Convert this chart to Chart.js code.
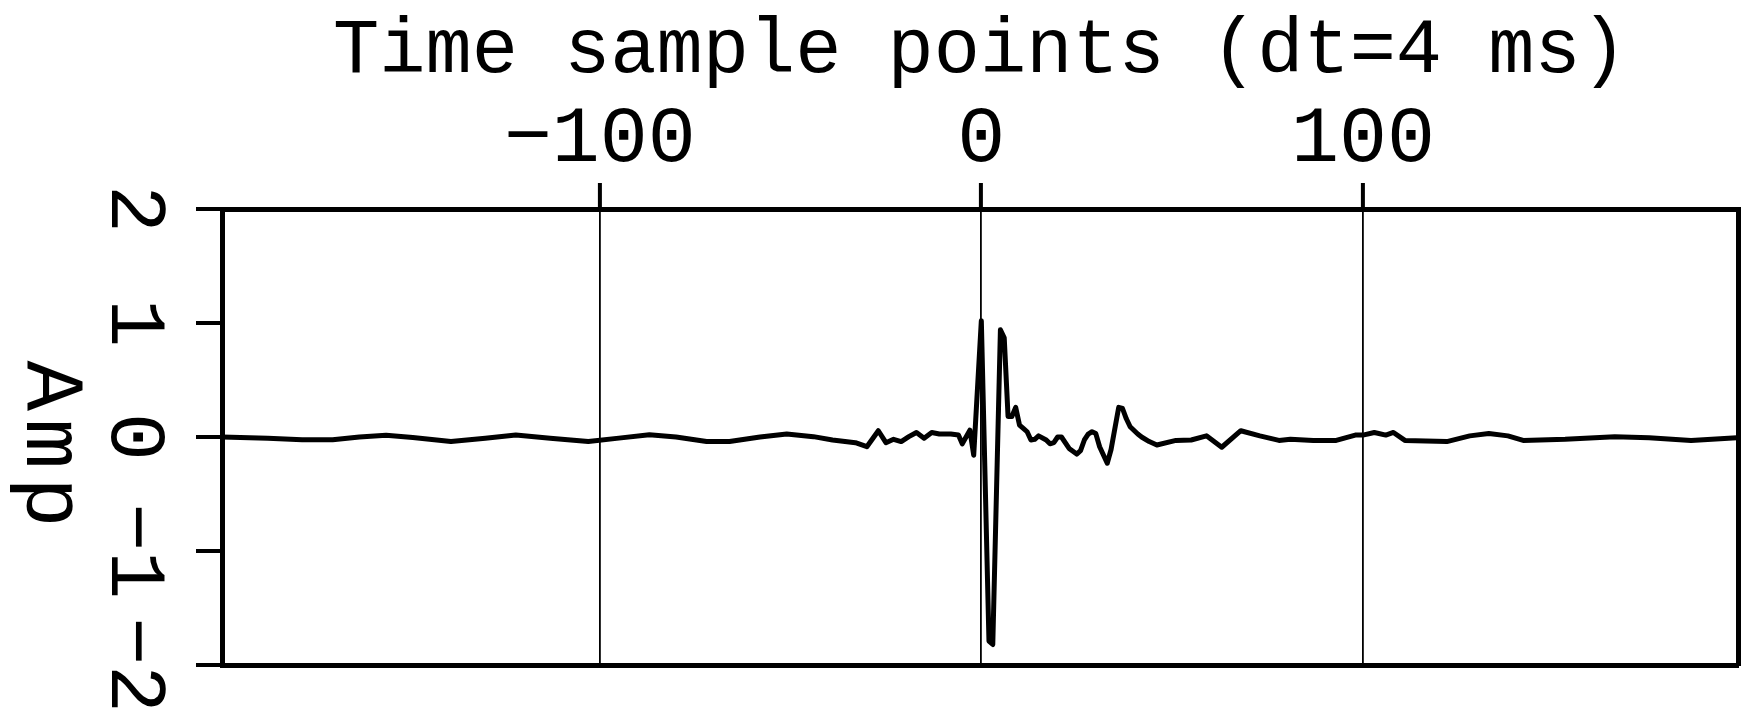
<!DOCTYPE html>
<html>
<head>
<meta charset="utf-8">
<script src="https://cdn.jsdelivr.net/npm/chart.js@4.4.1/dist/chart.umd.min.js"></script>
<style>
  html, body { margin: 0; padding: 0; background: #fff; }
  canvas { display: block; }
</style>
</head>
<body>
<canvas id="myChart" width="1748" height="718"></canvas>
<script>
const sampleIdx = [-199, -187, -178, -170, -163, -156, -149, -139, -130, -122, -113, -103, -95, -87, -80, -72, -66, -58, -51, -44,
  -39, -33, -30, -27, -25, -23, -21, -19, -17, -15, -13, -11, -8, -6, -5, -3, -2, 0, 2, 3,
  5, 6, 7, 8, 9, 10, 11, 12, 13, 14, 15, 17, 18, 19, 20, 21, 23, 25, 26, 27,
  28, 29, 30, 31, 33, 34, 36, 37, 38, 39, 41, 42, 44, 46, 51, 55, 59, 63, 68, 73,
  78, 81, 87, 93, 98, 100, 103, 106, 108, 111, 122, 128, 133, 138, 142, 153, 166, 175, 186, 198];
const amplitude = [0.00, -0.01, -0.025, -0.025, 0.00, 0.015, -0.005, -0.04, -0.01, 0.017, -0.01, -0.04, -0.01, 0.02, 0.00, -0.04, -0.04, 0.00, 0.026, 0.003,
  -0.026, -0.05, -0.085, 0.055, -0.05, -0.02, -0.04, 0.003, 0.04, -0.01, 0.04, 0.026, 0.026, 0.017, -0.06, 0.06, -0.16, 1.02, -1.79, -1.82,
  0.94, 0.87, 0.18, 0.18, 0.26, 0.105, 0.076, 0.046, -0.026, -0.02, 0.01, -0.026, -0.06, -0.05, 0.00, 0.00, -0.10, -0.15, -0.12, -0.026,
  0.026, 0.046, 0.03, -0.085, -0.23, -0.11, 0.26, 0.25, 0.16, 0.09, 0.026, 0.00, -0.04, -0.07, -0.03, -0.026, 0.01, -0.09, 0.055, 0.01,
  -0.03, -0.02, -0.03, -0.03, 0.017, 0.017, 0.04, 0.017, 0.04, -0.03, -0.04, 0.01, 0.03, 0.01, -0.03, -0.02, 0.003, -0.006, -0.03, -0.006];

const xTicks = [-100, 0, 100];
const yTicks = [-2, -1, 0, 1, 2];
const xRange = [-199, 198.3];
const yRange = [-2, 2];
const xTitle = 'Time sample points (dt=4 ms)';
const yTitle = 'Amp';

const FONT = "'Liberation Mono', 'DejaVu Sans Mono', monospace";

// signo menos tipográfico
const fmt = v => (v < 0 ? '\u2212' + Math.abs(v) : String(v));

/* Etiqueta del eje Y girada en sentido horario */
const ampLabel = {
    id: 'ampLabel',
    afterDraw(chart) {
        const ctx = chart.ctx;
        ctx.save();
        ctx.font = '84px ' + FONT;
        ctx.fillStyle = '#000';
        ctx.textAlign = 'center';
        ctx.textBaseline = 'alphabetic';
        if ('letterSpacing' in ctx) ctx.letterSpacing = '8px';
        ctx.translate(27, 448);
        ctx.rotate(Math.PI / 2);
        ctx.fillText(yTitle, 0, 0);
        ctx.restore();
    }
};

const ctx = document.getElementById('myChart');
new Chart(ctx, {
    type: 'line',
    data: {
        datasets: [{
            data: sampleIdx.map((x, i) => ({ x: x, y: amplitude[i] })),
            borderColor: '#000',
            borderWidth: 5,
            borderJoinStyle: 'round',
            borderCapStyle: 'round',
            pointRadius: 0,
            tension: 0,
            fill: false
        }]
    },
    options: {
        responsive: false,
        animation: false,
        events: [],
        layout: { padding: { left: 0, top: 0, right: 10, bottom: 53 } },
        plugins: {
            legend: { display: false },
            tooltip: { enabled: false }
        },
        scales: {
            x: {
                type: 'linear',
                position: 'top',
                min: xRange[0],
                max: xRange[1],
                afterBuildTicks: s => { s.ticks = xTicks.map(v => ({ value: v })); },
                afterFit: s => { s.height = 209; s.paddingLeft = 0; s.paddingRight = 0; },
                ticks: {
                    autoSkip: false,
                    maxRotation: 0,
                    padding: 3,
                    color: '#000',
                    font: { family: FONT, size: 80, lineHeight: 1 },
                    callback: v => fmt(v)
                },
                grid: {
                    color: '#000',
                    lineWidth: 1.8,
                    tickLength: 26,
                    tickWidth: 4,
                    tickColor: '#000'
                },
                border: { display: true, color: '#000', width: 5 },
                title: {
                    display: true,
                    text: xTitle,
                    color: '#000',
                    font: { family: FONT, size: 77, lineHeight: 1 },
                    padding: { top: 13, bottom: 0 }
                }
            },
            y: {
                type: 'linear',
                position: 'left',
                min: yRange[0],
                max: yRange[1],
                afterBuildTicks: s => { s.ticks = yTicks.map(v => ({ value: v })); },
                afterFit: s => { s.width = 222; s.paddingTop = 0; s.paddingBottom = 0; },
                ticks: {
                    minRotation: -90,
                    maxRotation: -90,
                    crossAlign: 'center',
                    padding: 15,
                    color: '#000',
                    font: { family: FONT, size: 80, lineHeight: 1 },
                    callback: v => fmt(v)
                },
                grid: {
                    drawOnChartArea: false,
                    color: '#000',
                    lineWidth: 4,
                    tickLength: 26,
                    tickWidth: 4,
                    tickColor: '#000'
                },
                border: { display: true, color: '#000', width: 5 }
            },
            x2: {
                type: 'linear',
                position: 'bottom',
                min: xRange[0],
                max: xRange[1],
                afterFit: s => { s.height = 0; s.paddingLeft = 0; s.paddingRight = 0; },
                ticks: { display: false },
                grid: { display: false, drawTicks: false },
                border: { display: true, color: '#000', width: 5 }
            },
            y2: {
                type: 'linear',
                position: 'right',
                min: yRange[0],
                max: yRange[1],
                afterFit: s => { s.width = 0; s.paddingTop = 0; s.paddingBottom = 0; },
                ticks: { display: false },
                grid: { display: false, drawTicks: false },
                border: { display: true, color: '#000', width: 5 }
            }
        }
    },
    plugins: [ampLabel]
});
</script>
</body>
</html>
